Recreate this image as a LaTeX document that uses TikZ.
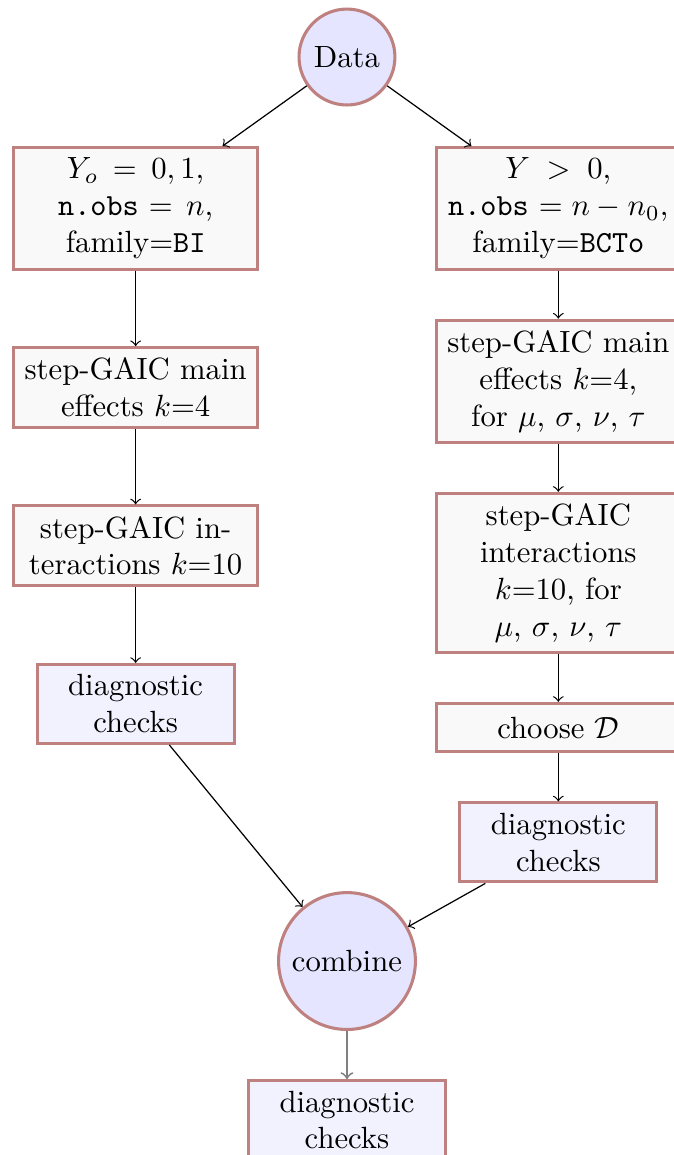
\documentclass[tikz,border=0pt]{standalone}
\usepackage{amsmath}
\usepackage{amssymb}
\usetikzlibrary{positioning}
\colorlet{edgered}{red!50!black!50}

\begin{document}
\begin{tikzpicture}[
    node distance=0mm,
    block/.style={draw=edgered, line width=1pt, fill=gray!5, text width=2.56cm, text centered},
    check/.style={draw=edgered, line width=1pt, fill=blue!5, text width=2.02cm, text centered},
    hub/.style={circle, draw=edgered, line width=1pt, fill=blue!10}
]
\useasboundingbox (-3.973,-12.572) rectangle (3.733,0.653);
\node[hub] (data) at (0,0) {Data};

% binary part
\node[block, anchor=north] (bin) at (-2.42,-1.02) {$Y_o = 0,1$,\\ \texttt{n.obs} $= n$,\\ family=\texttt{BI}};
\node[block, below=8.65mm of bin] (binmain) {step-GAIC main effects $k$=4};
\node[block, below=8.65mm of binmain] (binint) {step-GAIC interactions $k$=10};
\node[check, below=8.65mm of binint] (bincheck) {diagnostic checks};

% positive part
\node[block, anchor=north] (pos) at (2.42,-1.02) {$Y > 0$,\\ \texttt{n.obs} $= n - n_0$,\\ family=\texttt{BCTo}};
\node[block, below=5.5mm of pos] (posmain) {step-GAIC main effects $k$=4, for $\mu$, $\sigma$, $\nu$, $\tau$};
\node[block, below=5.5mm of posmain] (posint) {step-GAIC interactions $k$=10, for $\mu$, $\sigma$, $\nu$, $\tau$};
\node[block, below=5.5mm of posint, minimum height=15.8pt] (posdist) {choose $\mathcal{D}$};
\node[check, below=5.5mm of posdist] (poscheck) {diagnostic checks};

\node[hub, anchor=north] (combine) at (0,-9.55) {combine};
\node[check, below=5.5mm of combine] (final) {diagnostic checks};

\foreach \a/\b in {data/bin, data/pos, bin/binmain, binmain/binint, binint/bincheck, pos/posmain, posmain/posint, posint/posdist, posdist/poscheck, bincheck/combine, poscheck/combine}
  \draw[->] (\a) -- (\b);
\draw[->, gray, semithick] (combine) -- (final);
\end{tikzpicture}
\end{document}
